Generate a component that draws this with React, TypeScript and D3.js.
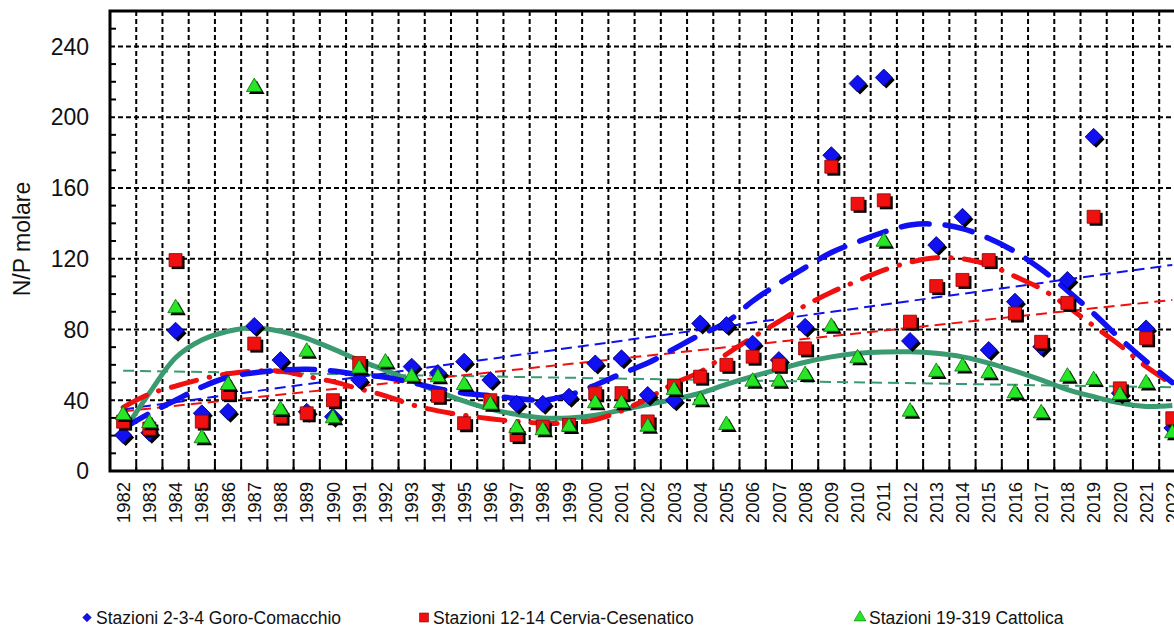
import React, { useEffect, useRef } from 'react';
import * as d3 from 'd3';

// categorie (anni)
const years = [
  1982, 1983, 1984, 1985, 1986, 1987, 1988, 1989, 1990, 1991,
  1992, 1993, 1994, 1995, 1996, 1997, 1998, 1999, 2000, 2001,
  2002, 2003, 2004, 2005, 2006, 2007, 2008, 2009, 2010, 2011,
  2012, 2013, 2014, 2015, 2016, 2017, 2018, 2019, 2020, 2021,
  2022,
];

// N/P molare - Stazioni 2-3-4 Goro-Comacchio
const goro = [
  20.3, 21.6, 79.3, 32.6, 33.5, 82, 62.7, 33.5, 30.7, 51.5,
  null, 59, 55.4, 61.8, 51.4, 38, 38, 42, 60.8, 63.7,
  43, 40, 83.4, 82.5, 72, 62.7, 81.5, 178.5, 219, 222.4,
  73.5, 127.7, 143.7, 68.4, 95.7, 70.2, 108, 188.9, 44, 80.6,
  24.3,
];

// Stazioni 12-14 Cervia-Cesenatico
const cervia = [
  27.9, 24, 119.2, 27.9, 44, 72, 30.7, 32.6, 40, 61,
  null, null, 42.5, 27, 40, 20.3, 25, 26, 43.9, 44,
  28, 48, 53.3, 60, 64.6, 60, 69.3, 172, 151, 153,
  84.4, 104.5, 108, 119.2, 89, 73, 95, 143.7, 46.7, 75,
  29.8,
];

// Stazioni 19-319 Cattolica
const cattolica = [
  31.6, 27, 92, 18.5, 48.6, 217, 34.5, 67.4, 29.8, 58,
  61.3, 53.3, 53, 48.6, 37.5, 24.3, 23, 25, 38.3, 38.3,
  25, 45.8, 40, 26, 50.5, 50.5, 54.2, 81.5, 63.7, 129.6,
  33.5, 56, 59, 55.2, 43.9, 32.6, 53.3, 51.4, 43, 49.5,
  21.3,
];

// linee di tendenza polinomiali
const goroPoly = [
  24, 32.5, 40, 47.5, 53, 55.5, 57, 57.5, 56.5, 54.5,
  53, 50, 46.5, 44, 42.5, 41, 40, 43, 48.5, 55,
  61, 69, 77, 84, 96, 106, 115, 123.5, 129.5, 135,
  139, 139.5, 137, 131.5, 124, 114, 102, 89, 75, 62,
  50,
];
const cerviaPoly = [
  36, 43.5, 48, 52, 55, 56.5, 56.5, 53.5, 50.5, 46.5,
  42.5, 37.5, 34, 31.5, 29.5, 28, 27, 27, 29, 34,
  41, 49.5, 56, 66, 75.5, 84.5, 93.5, 101, 107.5, 113.5,
  118, 120.5, 120, 116.5, 110, 103, 93, 82, 71, 59,
  49,
];
const cattolicaPoly = [
  22, 44, 64, 74, 79, 81, 79, 75, 69, 62.5,
  57, 51, 45, 39.5, 35, 32, 30, 30, 31.5, 34.5,
  37.5, 40.5, 44, 49, 53.5, 57.5, 61.5, 64.5, 66.5, 67.3,
  67.4, 66.5, 64.5, 61, 56.5, 51.5, 46, 42, 38.5, 36.5,
  37,
];

// linee di tendenza lineari: valore al primo e all'ultimo anno
const goroLinear = [34.8, 116.5];
const cerviaLinear = [33.7, 96.7];
const cattolicaLinear = [56.7, 47.3];

const yTicks = [0, 40, 80, 120, 160, 200, 240];
const yMinorTicks = [10, 20, 30, 50, 60, 70, 90, 100, 110, 130, 140, 150, 170, 180, 190, 210, 220, 230, 250];

const legendLabels = [
  'Stazioni 2-3-4 Goro-Comacchio',
  'Stazioni 12-14 Cervia-Cesenatico',
  'Stazioni 19-319 Cattolica',
];

const FONT = "'Liberation Sans', Arial, sans-serif";
const BLUE = '#1010f0';
const RED = '#f01010';
const GREEN = '#26e626';
const TEAL = '#3a9a70';

const App: React.FC = () => {
  const svgRef = useRef<SVGSVGElement>(null);
  const width = 1174;
  const height = 627;

  useEffect(() => {
    if (!svgRef.current) return;
    const svg = d3.select(svgRef.current);
    svg.selectAll('*').remove();

    const left = 110;
    const top = 11;
    const bottom = 471;
    const band = 26.23;
    const right = left + band * years.length;

    const x = d3.scaleBand<number>().domain(years).range([left, right]).padding(0);
    const y = d3.scaleLinear().domain([0, 260]).range([bottom, top]);
    const cx = (yr: number) => (x(yr) as number) + x.bandwidth() / 2;

    svg.append('rect').attr('width', width).attr('height', height).style('fill', '#fff');

    // griglia tratteggiata
    const grid = svg.append('g');
    grid
      .selectAll('.hgrid')
      .data(yTicks.slice(1))
      .enter()
      .append('line')
      .attr('x1', left)
      .attr('x2', right)
      .attr('y1', (d) => y(d))
      .attr('y2', (d) => y(d))
      .style('stroke', '#000')
      .style('stroke-width', 2)
      .style('stroke-dasharray', '5 3');
    grid
      .selectAll('.vgrid')
      .data(years.slice(0, -1))
      .enter()
      .append('line')
      .attr('x1', (d) => (x(d) as number) + x.bandwidth())
      .attr('x2', (d) => (x(d) as number) + x.bandwidth())
      .attr('y1', top)
      .attr('y2', bottom)
      .style('stroke', '#000')
      .style('stroke-width', 2)
      .style('stroke-dasharray', '5 3');

    // tacche
    svg
      .append('g')
      .selectAll('line')
      .data(yMinorTicks)
      .enter()
      .append('line')
      .attr('x1', left)
      .attr('x2', left + 6)
      .attr('y1', (d) => y(d))
      .attr('y2', (d) => y(d))
      .style('stroke', '#000')
      .style('stroke-width', 2);
    svg
      .append('g')
      .selectAll('line')
      .data(years.slice(0, -1))
      .enter()
      .append('line')
      .attr('x1', (d) => (x(d) as number) + x.bandwidth())
      .attr('x2', (d) => (x(d) as number) + x.bandwidth())
      .attr('y1', bottom)
      .attr('y2', bottom - 7)
      .style('stroke', '#000')
      .style('stroke-width', 2);

    // cornice
    svg
      .append('rect')
      .attr('x', left)
      .attr('y', top)
      .attr('width', right - left)
      .attr('height', bottom - top)
      .style('fill', 'none')
      .style('stroke', '#000')
      .style('stroke-width', 3);

    // etichette asse Y
    svg
      .append('g')
      .selectAll('text')
      .data(yTicks)
      .enter()
      .append('text')
      .attr('x', 89)
      .attr('y', (d) => y(d))
      .attr('dy', '0.36em')
      .attr('text-anchor', 'end')
      .style('font-family', FONT)
      .style('font-size', '23px')
      .style('fill', '#111')
      .text((d) => d);

    svg
      .append('text')
      .attr('transform', 'translate(30,239) rotate(-90)')
      .attr('text-anchor', 'middle')
      .style('font-family', FONT)
      .style('font-size', '23px')
      .style('fill', '#111')
      .text('N/P molare');

    // etichette asse X
    svg
      .append('g')
      .selectAll('text')
      .data(years)
      .enter()
      .append('text')
      .attr('transform', (d) => `translate(${cx(d)},482) rotate(-90)`)
      .attr('dy', '0.36em')
      .attr('text-anchor', 'end')
      .style('font-family', FONT)
      .style('font-size', '18.5px')
      .style('fill', '#111')
      .text((d) => d);

    // linee di tendenza lineari
    const linearLine = (vals: number[], color: string) => {
      svg
        .append('line')
        .attr('x1', cx(years[0]))
        .attr('x2', cx(years[years.length - 1]))
        .attr('y1', y(vals[0]))
        .attr('y2', y(vals[1]))
        .style('stroke', color)
        .style('stroke-width', 2)
        .style('stroke-dasharray', '11 6');
    };
    linearLine(cattolicaLinear, TEAL);
    linearLine(cerviaLinear, RED);
    linearLine(goroLinear, BLUE);

    // linee di tendenza polinomiali
    const polyGen = d3
      .line<number>()
      .x((_, i) => cx(years[i]))
      .y((d) => y(d))
      .curve(d3.curveCatmullRom.alpha(0.5));

    svg
      .append('path')
      .attr('d', polyGen(cattolicaPoly))
      .style('fill', 'none')
      .style('stroke', TEAL)
      .style('stroke-width', 5);
    svg
      .append('path')
      .attr('d', polyGen(cerviaPoly))
      .style('fill', 'none')
      .style('stroke', RED)
      .style('stroke-width', 5)
      .style('stroke-linecap', 'round')
      .style('stroke-dasharray', '26 13 0.5 13');
    svg
      .append('path')
      .attr('d', polyGen(goroPoly))
      .style('fill', 'none')
      .style('stroke', BLUE)
      .style('stroke-width', 5.5)
      .style('stroke-linecap', 'round')
      .style('stroke-dasharray', '28 16');

    // marcatori con ombra
    const series = [
      { values: goro, shape: d3.symbolSquare, size: 144, rotate: 45, fill: BLUE, stroke: '#00008a' },
      { values: cervia, shape: d3.symbolSquare, size: 169, rotate: 0, fill: RED, stroke: '#8a0000' },
      { values: cattolica, shape: d3.symbolTriangle, size: 105, rotate: 0, fill: GREEN, stroke: '#0b6b0b' },
    ];

    series.forEach((s) => {
      const pts = years
        .map((yr, i) => ({ yr, v: s.values[i] }))
        .filter((p) => p.v !== null) as { yr: number; v: number }[];
      const path = d3.symbol().type(s.shape).size(s.size)();
      const g = svg.append('g');
      g.selectAll('.shadow')
        .data(pts)
        .enter()
        .append('path')
        .attr('d', path)
        .attr('transform', (p) => `translate(${cx(p.yr) + 2.5},${y(p.v) + 2.5}) rotate(${s.rotate})`)
        .style('fill', '#000');
      g.selectAll('.mark')
        .data(pts)
        .enter()
        .append('path')
        .attr('d', path)
        .attr('transform', (p) => `translate(${cx(p.yr)},${y(p.v)}) rotate(${s.rotate})`)
        .style('fill', s.fill)
        .style('stroke', s.stroke)
        .style('stroke-width', 0.8);
    });

    // legenda
    const legendX = [96, 433, 869];
    const legend = svg.append('g');
    legendLabels.forEach((label, i) => {
      const s = series[i];
      const small = d3.symbol().type(s.shape).size(i === 0 ? 36 : i === 1 ? 81 : 60)();
      legend
        .append('path')
        .attr('d', small)
        .attr('transform', `translate(${legendX[i] - 9},${617.5}) rotate(${s.rotate})`)
        .style('fill', s.fill)
        .style('stroke', s.stroke)
        .style('stroke-width', 0.6);
      legend
        .append('text')
        .attr('x', legendX[i])
        .attr('y', 624)
        .style('font-family', FONT)
        .style('font-size', '17.5px')
        .style('fill', '#111')
        .text(label);
    });
  }, []);

  return (
    <div style={{ position: 'absolute', left: 0, top: 0 }}>
      <svg ref={svgRef} width={width} height={height} style={{ display: 'block' }} />
    </div>
  );
};

export default App;
